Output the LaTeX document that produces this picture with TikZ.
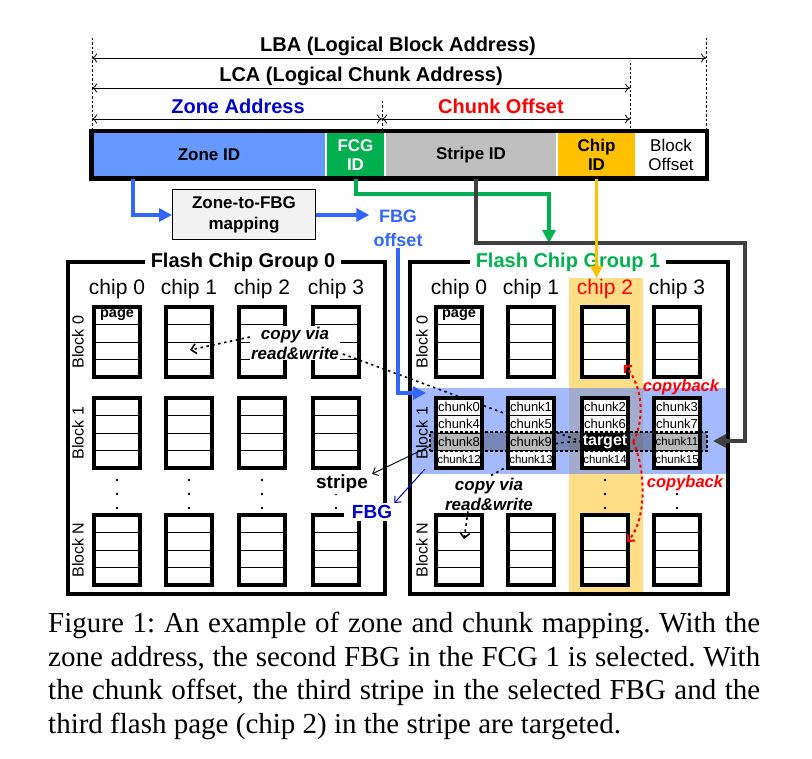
\documentclass[tikz,border=0pt]{standalone}
\usepackage{fontspec}
\setmainfont{Liberation Sans}
\newfontfamily\capfont{Liberation Serif}
\usetikzlibrary{arrows.meta, positioning}
\frenchspacing

\definecolor{zoneblue}{RGB}{102,153,255}
\definecolor{fcggreen}{RGB}{0,176,80}
\definecolor{stripegray}{RGB}{191,191,191}
\definecolor{chiporange}{RGB}{255,192,0}
\definecolor{arrowblue}{RGB}{51,102,255}
\definecolor{darkblue}{RGB}{0,0,204}
\definecolor{linegray}{RGB}{64,64,64}
\definecolor{chipbg}{RGB}{255,222,135}
\definecolor{bandblue}{RGB}{102,140,255}
\definecolor{mapgray}{RGB}{242,242,242}

\pgfdeclarelayer{back}
\pgfdeclarelayer{mid}
\pgfsetlayers{back,mid,main}

\tikzset{
  field/.style={draw=white, line width=1.5pt, minimum height=46pt, inner sep=0pt, align=center, font=\fontsize{17}{19}\selectfont\bfseries},
  dim/.style={{To[length=5pt,width=9pt]}-{To[length=5pt,width=9pt]}, line width=0.8pt},
  guide/.style={dash pattern=on 2.5pt off 2pt, line width=0.7pt},
  dimtext/.style={font=\fontsize{20}{24}\selectfont\bfseries},
  feed/.style={line width=4pt, -{Triangle[length=13pt,width=13pt]}},
  group/.style={draw, line width=4pt},
  gtitle/.style={fill=white, inner xsep=6pt, inner ysep=1pt, font=\fontsize{20}{24}\selectfont\bfseries},
  chiplab/.style={font=\fontsize{21}{24}\selectfont},
  blklab/.style={rotate=90, font=\fontsize{16}{18}\selectfont},
  blk/.style={draw, line width=3.5pt, minimum width=46pt, minimum height=70pt, inner sep=0pt},
  chunk/.style={inner sep=0pt, font=\fontsize{13}{13}\selectfont},
  chunksm/.style={inner sep=0pt, font=\fontsize{11.5}{11.5}\selectfont},
  copytext/.style={fill=white, inner sep=1pt, align=center, font=\fontsize{17}{20}\selectfont\bfseries\itshape},
  copyline/.style={dash pattern=on 2.5pt off 3.5pt, line width=1.6pt},
  cbline/.style={red, dash pattern=on 3pt off 3pt, line width=2pt, -{Straight Barb[length=5pt,width=10pt]}},
  cblabel/.style={text=red, inner sep=0.5pt, font=\fontsize{16.5}{18}\selectfont\bfseries\itshape},
}

\begin{document}
\begin{tikzpicture}[x=1pt, y=-1pt]
  \useasboundingbox (0,0) rectangle (812,759);

  % highlighted chip column and FBG band
  \begin{pgfonlayer}{back}
    \fill[chipbg] (569,278) rectangle (643,594);
    \fill[bandblue, opacity=0.6] (412,388) rectangle (726,474);
  \end{pgfonlayer}

  % address ranges
  \draw[guide] (92,38) -- (92,132);
  \draw[guide] (706,38) -- (706,132);
  \draw[guide] (630,63) -- (630,132);
  \draw[guide] (382,101) -- (382,132);
  \coordinate (lbaL) at (92,58);
  \coordinate (lbaR) at (706,58);
  \coordinate (lcaL) at (92,88);
  \coordinate (lcaR) at (630,88);
  \coordinate (zaL) at (92,119);
  \coordinate (zaR) at (382,119);
  \coordinate (coR) at (630,119);
  \draw[dim] (lbaL) -- (lbaR);
  \draw[dim] (lcaL) -- (lcaR);
  \draw[dim] (zaL) -- (zaR);
  \draw[dim] (zaR) -- (coR);
  \node[dimtext] (lba) at (398,46) {LBA (Logical Block Address)};
  \node[dimtext] (lca) at (361,76) {LCA (Logical Chunk Address)};
  \node[dimtext, text=darkblue] (zaddr) at (238,106) {Zone Address};
  \node[dimtext, text=red] (coff) at (501,106) {Chunk Offset};

  % address fields
  \node[field, fill=zoneblue, minimum width=234pt] (zone) at (209,155) {Zone ID};
  \node[field, fill=fcggreen, text=white, minimum width=59pt] (fcg) at (355.5,155) {FCG\\ID};
  \node[field, fill=stripegray, minimum width=172pt] (stripe) at (471,155) {Stripe ID};
  \node[field, fill=chiporange, minimum width=79pt] (chip) at (596.5,155) {Chip\\ID};
  \node[field, minimum width=70pt, font=\fontsize{17}{19}\selectfont] (boff) at (671,155) {Block\\Offset};
  \draw[line width=4.5pt] (zone.north west) rectangle (boff.south east);

  \node[draw, fill=mapgray, line width=1pt, minimum width=143pt, minimum height=50pt, align=center, font=\fontsize{17}{21}\selectfont\bfseries] (map) at (244,215) {Zone-to-FBG\\mapping};
  \node[text=arrowblue, align=center, inner sep=1pt, font=\fontsize{18}{24}\selectfont\bfseries] (fbgoff) at (398,228) {FBG\\offset};

  % flash chip groups
  \draw[group] (68,262) rectangle (385,594);
  \draw[group] (410,262) rectangle (728,594);
  \node[gtitle] (g0title) at (243,262) {Flash Chip Group 0};
  \node[gtitle, text=fcggreen] (g1title) at (568,262) {Flash Chip Group 1};

  \foreach \c [count=\i from 0] in {117,189,262,336}
    \node[chiplab] (g0chip\i) at (\c,289) {chip \i};
  \foreach \c/\i/\col in {459/0/black,531/1/black,605/2/red,677/3/black}
    \node[chiplab, text=\col] (g1chip\i) at (\c,289) {chip \i};

  \foreach \x/\g in {78/0,422/1} {
    \node[blklab] (g\g blk0) at (\x,342) {Block 0};
    \node[blklab] (g\g blk1) at (\x,433) {Block 1};
    \node[blklab] (g\g blkN) at (\x,550) {Block N};
  }

  % blocks with four pages each
  \foreach \c [count=\i from 0] in {117,189,262,336}
    \foreach \r [count=\j from 0] in {342,433,550} {
      \node[blk] (g0-\i-\j) at (\c,\r) {};
      \foreach \k in {1,2,3}
        \draw[line width=0.8pt] (\c-23,\r-35+17.5*\k) -- (\c+23,\r-35+17.5*\k);
    }
  \foreach \c [count=\i from 0] in {459,531,605,677}
    \foreach \r [count=\j from 0] in {342,433,550} {
      \node[blk, fill=white] (g1-\i-\j) at (\c,\r) {};
      \foreach \k in {1,2,3}
        \draw[line width=0.8pt] (\c-23,\r-35+17.5*\k) -- (\c+23,\r-35+17.5*\k);
    }
  \node[inner sep=0pt, font=\fontsize{14.5}{15}\selectfont\bfseries] (pg0) at (117,315.5) {page};
  \node[inner sep=0pt, font=\fontsize{14.5}{15}\selectfont\bfseries] (pg1) at (459,315.5) {page};

  \foreach \c in {117,189,262,336,459,531,605,677}
    \foreach \y in {480,494,508}
      \fill (\c,\y) circle (1.3pt);

  % chunks of the selected FBG
  \foreach \c [count=\i from 0] in {459,531,605,677} {
    \pgfmathtruncatemacro\m{\i+4}
    \node[chunk] (ck\i) at (\c,406.75) {chunk\i};
    \node[chunk] (ck\m) at (\c,424.25) {chunk\m};
  }
  \node[chunk] (ck8) at (459,441.75) {chunk8};
  \node[chunk] (ck9) at (531,441.75) {chunk9};
  \node[chunksm] (ck11) at (677,441.75) {chunk11};
  \foreach \c [count=\i from 12] in {459,531,605,677}
    \node[chunksm] (ck\i) at (\c,459.25) {chunk\i};
  \node[draw, densely dashed, line width=1.2pt, fill=black, fill opacity=0.28, minimum width=277pt, minimum height=19pt, inner sep=0pt] (strp) at (568.5,441.5) {};
  \node[fill=black, text=white, minimum width=46pt, minimum height=17pt, inner sep=0pt, font=\fontsize{16}{16}\selectfont\bfseries] (tgt) at (605,441.75) {target};

  % copies of the target page
  \node[copytext] (cp0) at (295,343) {copy via\\read\&write};
  \node[copytext] (cp1) at (489,494) {copy via\\read\&write};
  \coordinate (cp0tip) at (190,350);
  \coordinate (cp1tip) at (464,539);
  \begin{pgfonlayer}{mid}
    \draw[copyline] (tgt.west) -- ([yshift=-10pt]cp0.east);
    \draw[copyline] (tgt.west) .. controls (552,442) .. (cp1.north);
  \end{pgfonlayer}
  \draw[copyline, -{Straight Barb[length=5pt,width=10pt]}] ([yshift=6pt]cp0.west) -- (cp0tip);
  \draw[copyline, -{Straight Barb[length=5pt,width=10pt]}] ([xshift=-21pt]cp1.south) -- (cp1tip);

  \coordinate (cbtop) at (624,365);
  \coordinate (cbbot) at (627,542);
  \draw[cbline] ([xshift=5pt]tgt.east) .. controls (645,420) and (643,385) .. (cbtop);
  \draw[cbline] ([xshift=5pt]tgt.east) .. controls (646,470) and (647,520) .. (cbbot);
  \node[cblabel] (cb0) at (681,387) {copyback};
  \node[cblabel, fill=white] (cb1) at (685,483) {copyback};

  % stripe and FBG labels
  \node[font=\fontsize{19}{20}\selectfont\bfseries, fill=white, inner sep=1pt] (stripelab) at (342,484) {stripe};
  \node[font=\fontsize{19}{20}\selectfont\bfseries, text=darkblue, fill=white, inner xsep=8pt, inner ysep=2pt] (fbglab) at (372,512) {FBG};
  \coordinate (fbgsrc) at (425,469);
  \draw[line width=0.9pt, -{Straight Barb[length=5pt,width=9pt]}] ([yshift=-5pt]strp.west) -- ([xshift=3pt]stripelab.north east);
  \draw[darkblue, line width=1pt, -{Straight Barb[length=5pt,width=9pt]}] (fbgsrc) -- ([xshift=-6pt]fbglab.north east);

  % address to location
  \coordinate (fbgtip) at (426,393);
  \coordinate (fcgtip) at (549,243);
  \coordinate (stripetip) at (713,441);
  \coordinate (chiptip) at (597,278);
  \draw[feed, arrowblue] ([xshift=-76pt]zone.south) |- (map.west);
  \draw[feed, arrowblue, shorten >=3pt] (map.east) -- (map.east -| fbgoff.west);
  \draw[feed, arrowblue] (fbgoff.south) |- (fbgtip);
  \draw[feed, fcggreen] (fcg.south) -- ++(0,15) -| (fcgtip);
  \draw[feed, linegray] ([xshift=5pt]stripe.south) |- (745,243) |- (stripetip);
  \draw[line width=3pt, chiporange, -{Triangle[length=12pt,width=12pt]}] (chip.south) -- (chip.south |- chiptip);

  \node[anchor=north west, text width=712pt, align=justify, inner sep=0pt, font=\capfont\fontsize{29}{33.5}\selectfont] (caption) at (48,612) {Figure 1: An example of zone and chunk mapping. With the\linebreak zone address, the second FBG in the FCG 1 is selected. With\linebreak the chunk offset, the third stripe in the selected FBG and the\linebreak third flash page (chip 2) in the stripe are targeted.};
\end{tikzpicture}
\end{document}
